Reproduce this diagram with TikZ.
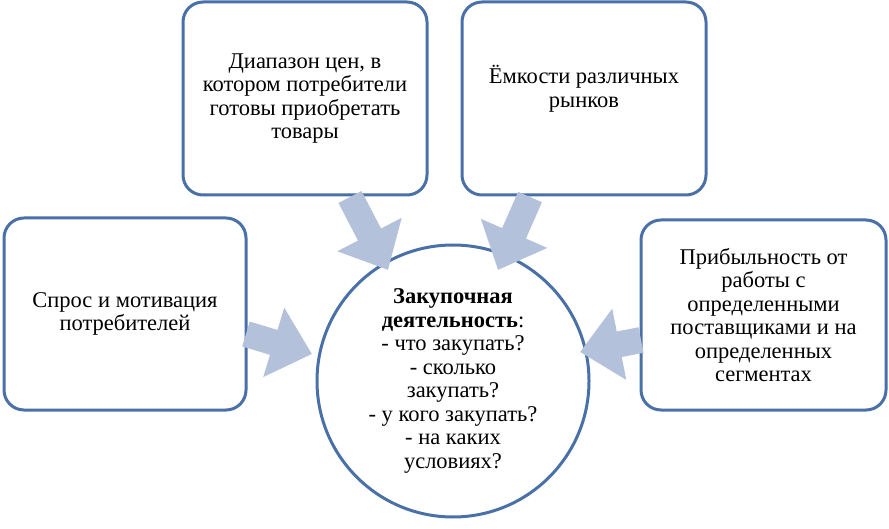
\documentclass[tikz,border=0pt]{standalone}
\usepackage{fontspec}
\setmainfont{Liberation Serif}
\usetikzlibrary{arrows.meta}
\definecolor{bord}{HTML}{4A70A8}
\definecolor{arr}{HTML}{B3C2DA}
\tikzset{
 box/.style={draw=bord,line width=3pt,rounded corners=20pt,fill=white,align=center,font=\fontsize{22.5}{23.5}\selectfont,inner sep=0pt},
 bigarr/.style={draw=arr,line width=26pt,-{Triangle[width=70pt,length=40pt]}}
}
\begin{document}
\begin{tikzpicture}[x=1pt,y=-1pt]
\useasboundingbox (0,0) rectangle (889,529);
\node[box,minimum width=242pt,minimum height=192pt] (l) at (125,314) {Спрос и мотивация\\потребителей};
\node[box,minimum width=244pt,minimum height=193pt] (t1) at (305,98.5) {\raisebox{16pt}{\parbox{230pt}{\centering Диапазон цен, в\\котором потребители\\готовы приобретать\\товары}}};
\node[box,minimum width=244pt,minimum height=193pt] (t2) at (584,98.5) {\raisebox{38pt}{\parbox{230pt}{\centering Ёмкости различных\\рынков}}};
\node[box,minimum width=245pt,minimum height=190pt] (r) at (763.5,315) {Прибыльность от\\работы с\\определенными\\поставщиками и на\\определенных\\сегментах};
\node[circle,draw=bord,line width=3pt,minimum size=272pt,align=center,font=\fontsize{22.5}{23.5}\selectfont,inner sep=0pt] (c) at (453,381) {\textbf{Закупочная}\\\textbf{деятельность}:\\- что закупать?\\- сколько\\закупать?\\- у кого закупать?\\- на каких\\условиях?};
\coordinate (la) at (246,334); \coordinate (lt) at (312,354);
\coordinate (t1a) at (350,197); \coordinate (t1t) at (388,270);
\coordinate (t2a) at (530,197); \coordinate (t2t) at (498,270);
\coordinate (ra) at (641,340); \coordinate (rt) at (580,352);
\draw[bigarr] (la) -- (lt);
\draw[bigarr] (t1a) -- (t1t);
\draw[bigarr] (t2a) -- (t2t);
\draw[bigarr] (ra) -- (rt);
\end{tikzpicture}
\end{document}
